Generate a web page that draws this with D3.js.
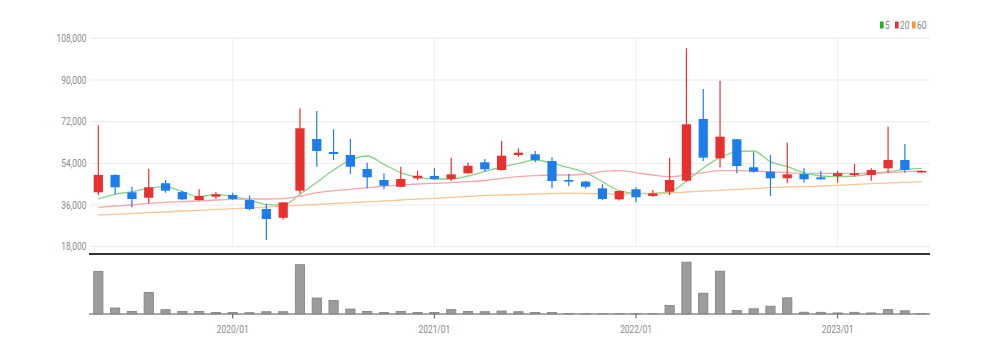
<!DOCTYPE html>
<html>
<head>
<meta charset="utf-8">
<script src="https://cdn.jsdelivr.net/npm/d3@7"></script>
<style>
  html, body { margin: 0; padding: 0; background: #fff; }
  svg { display: block; }
  text { font-family: Roboto, "Liberation Sans", sans-serif; }
</style>
</head>
<body>
<div id="chart"></div>
<script>
// monthly candles 2019/05 ~ 2023/06
const months = [
  "2019/05","2019/06","2019/07","2019/08","2019/09","2019/10","2019/11","2019/12",
  "2020/01","2020/02","2020/03","2020/04","2020/05","2020/06","2020/07","2020/08","2020/09","2020/10","2020/11","2020/12",
  "2021/01","2021/02","2021/03","2021/04","2021/05","2021/06","2021/07","2021/08","2021/09","2021/10","2021/11","2021/12",
  "2022/01","2022/02","2022/03","2022/04","2022/05","2022/06","2022/07","2022/08","2022/09","2022/10","2022/11","2022/12",
  "2023/01","2023/02","2023/03","2023/04","2023/05","2023/06"
];
const open  = [41500,49000,41500,39150,45400,41600,38150,39600,40350,38150,34300,30500,42200,64500,58900,57600,51550,46800,43900,47550,
               48550,47250,49700,54450,51100,57600,57900,55000,46800,46100,43200,38450,42800,39900,41750,46500,73150,56200,64400,52300,
               50400,47550,49400,47950,48550,48950,48950,51850,55450,50100];
const high  = [70500,49300,43900,51550,46800,42200,42800,41600,41300,40050,36450,37200,77750,76600,68700,64500,54300,49700,52550,50800,
               51850,56450,54300,55850,63650,60500,59350,56600,49400,46500,44950,42050,43650,42500,56450,103700,86100,89700,64500,59050,
               57600,62900,51850,50700,50800,53700,51850,69800,62350,51000];
const low   = [40300,40600,35000,36750,41300,38150,38000,38750,38300,33700,20900,29800,41000,52550,55450,49400,43200,42800,43800,46800,
               46800,46350,49500,50400,51000,56850,54450,43200,44200,43200,38150,37900,37150,39600,40350,46000,55000,52300,49700,49950,
               39900,45400,45650,47000,45650,48250,46500,49950,49950,49900];
const close = [49000,43650,38600,43650,42200,38450,39900,40650,38600,34300,29950,37150,69150,59350,58050,52550,47950,44350,47250,48650,
               47250,49250,52950,51450,57300,58600,55450,46350,46100,43900,38600,42050,39350,41050,46800,70850,56450,65500,52850,50400,
               47550,49250,47100,47100,49700,49700,51100,55450,51100,50700];
const volume = [4260,600,260,2160,430,260,260,160,160,130,230,230,4930,1600,1360,500,260,160,260,160,
                160,430,260,230,300,230,160,160,60,40,40,40,40,40,860,5180,2080,4280,350,520,
                780,1620,180,170,110,170,110,440,320,60];
const ma5  = [38600,40630,41750,43220,43910,41750,39590,40630,39590,38170,36310,36000,40630,45810,51120,55440,57170,53580,49960,47970,
              47240,47240,48530,50480,52420,54020,55440,54020,52120,49960,46070,42180,41060,41060,41620,46370,51990,56440,59030,59330,
              54710,52550,49960,48530,48230,48530,49400,50390,51430,51860];
const ma20 = [35020,35580,36010,36740,37170,37430,37740,38170,38470,38600,38600,38730,39890,41320,42180,42790,43480,44210,44650,45080,
              45380,45640,46070,46590,47540,48230,48660,48960,48960,49400,50390,50820,49960,48960,48230,48960,49960,50820,50820,50690,
              50390,49960,49700,49700,49700,49700,49700,49960,50390,50690];
const ma60 = [31690,31990,32340,32680,32990,33420,33720,34060,34410,34710,35140,35580,35880,36220,36660,37000,37430,37740,38170,38600,
              38900,39330,39680,40110,40330,40540,40760,40970,41060,40970,40890,40760,40760,40890,41190,41620,42050,42360,42700,43050,
              43480,43780,44000,44210,44520,44860,45210,45510,45810,46070];
const priceTicks = [18000, 36000, 54000, 72000, 90000, 108000];
const yearTicks = ["2020/01", "2021/01", "2022/01", "2023/01"];
const maNames = ["5", "20", "60"];

const W = 989, H = 353;
const UP = "#e8312f", DOWN = "#1e7ded";
const maLineColors = ["#86d486", "#f4a6ae", "#f6c79a"];
const maKeyColors = ["#1fb21f", "#e8312f", "#f5962e"];

const svg = d3.select("#chart").append("svg")
  .attr("width", W)
  .attr("height", H);

const x = d3.scaleBand()
  .domain(months)
  .range([90, 930])
  .paddingInner(0.45)
  .paddingOuter(0.22);
const cx = m => x(m) + x.bandwidth() / 2;

const y = d3.scaleLinear().domain([18000, 108000]).range([246.7, 38.3]);
const yVol = d3.scaleLinear().domain([0, 5300]).range([314, 261]);

const fmt = d3.format(",");

// grid
svg.append("g")
  .selectAll("line")
  .data(priceTicks)
  .join("line")
  .attr("x1", 90).attr("x2", 930)
  .attr("y1", d => y(d)).attr("y2", d => y(d))
  .attr("stroke", "#ebebeb");

svg.append("g")
  .selectAll("line")
  .data(yearTicks)
  .join("line")
  .attr("x1", d => cx(d)).attr("x2", d => cx(d))
  .attr("y1", y(108000)).attr("y2", y(18000))
  .attr("stroke", "#efefef");

// y labels (narrow text)
svg.append("g")
  .selectAll("text")
  .data(priceTicks)
  .join("text")
  .attr("transform", d => `translate(86.5,${y(d)}) scale(0.8,1)`)
  .attr("dy", "0.35em")
  .attr("text-anchor", "end")
  .attr("font-size", 10.5)
  .attr("fill", "#8a8a8a")
  .text(d => fmt(d));

// moving averages
[ma5, ma20, ma60].forEach((arr, k) => {
  const line = d3.line()
    .x((d, i) => cx(months[i]))
    .y(d => y(d))
    .curve(d3.curveMonotoneX);
  svg.append("path")
    .datum(arr)
    .attr("d", line)
    .attr("fill", "none")
    .attr("stroke", maLineColors[k])
    .attr("stroke-width", 1.3);
});

// candles
const candles = svg.append("g")
  .selectAll("g")
  .data(months.map((m, i) => ({ m, o: open[i], h: high[i], l: low[i], c: close[i] })))
  .join("g");

candles.append("line")
  .attr("x1", d => cx(d.m)).attr("x2", d => cx(d.m))
  .attr("y1", d => y(d.h)).attr("y2", d => y(d.l))
  .attr("stroke", d => d.c >= d.o ? UP : DOWN)
  .attr("stroke-width", 1.2);

candles.append("rect")
  .attr("x", d => x(d.m))
  .attr("width", x.bandwidth())
  .attr("y", d => y(Math.max(d.o, d.c)))
  .attr("height", d => Math.max(1.5, Math.abs(y(d.o) - y(d.c))))
  .attr("fill", d => d.c >= d.o ? UP : DOWN);

// separator
svg.append("line")
  .attr("x1", 89).attr("x2", 930)
  .attr("y1", 254).attr("y2", 254)
  .attr("stroke", "#333")
  .attr("stroke-width", 2);

// volume
svg.append("g")
  .selectAll("rect")
  .data(volume)
  .join("rect")
  .attr("x", (d, i) => x(months[i]))
  .attr("width", x.bandwidth())
  .attr("y", d => yVol(d))
  .attr("height", d => yVol(0) - yVol(d))
  .attr("fill", "#9c9c9c")
  .attr("stroke", "#808080")
  .attr("stroke-width", 0.8);

svg.append("line")
  .attr("x1", 89).attr("x2", 930)
  .attr("y1", 314).attr("y2", 314)
  .attr("stroke", "#8c8c8c")
  .attr("stroke-width", 1.6);

svg.append("g")
  .selectAll("line")
  .data(yearTicks)
  .join("line")
  .attr("x1", d => cx(d)).attr("x2", d => cx(d))
  .attr("y1", 314).attr("y2", 318.5)
  .attr("stroke", "#555");

svg.append("g")
  .selectAll("text")
  .data(yearTicks)
  .join("text")
  .attr("transform", d => `translate(${cx(d)},333) scale(0.8,1)`)
  .attr("text-anchor", "middle")
  .attr("font-size", 10.5)
  .attr("fill", "#8a8a8a")
  .text(d => d);

// legend
const legend = svg.append("g").attr("transform", "translate(880,0)");
const keyX = [0, 15, 32];
maNames.forEach((n, k) => {
  legend.append("rect")
    .attr("x", keyX[k]).attr("y", 21.5)
    .attr("width", 3.6).attr("height", 7)
    .attr("fill", maKeyColors[k]);
  legend.append("text")
    .attr("transform", `translate(${keyX[k] + 5},28.8) scale(0.8,1)`)
    .attr("font-size", 10.5)
    .attr("fill", "#888")
    .text(n);
});
</script>
</body>
</html>
